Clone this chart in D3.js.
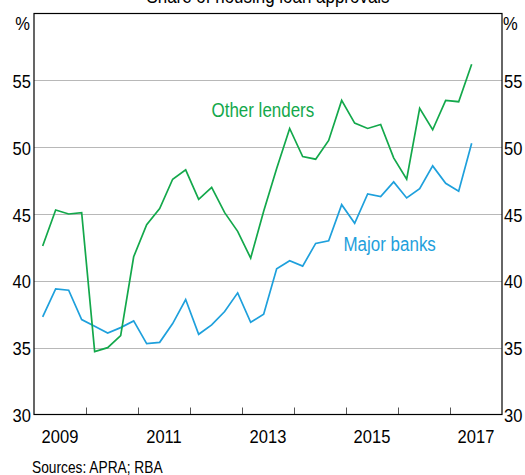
<!DOCTYPE html>
<html>
<head>
<meta charset="utf-8">
<script src="https://cdn.jsdelivr.net/npm/d3@7"></script>
<style>
    body { margin: 0; background: #fff; }
    svg { display: block; font-family: "Liberation Sans", Arial, sans-serif; }
</style>
</head>
<body>
<div id="chart"></div>
<script>
// quarterly observations, plotted at the last month of each quarter
const quarters = [
    '2009Q1', '2009Q2', '2009Q3', '2009Q4', '2010Q1', '2010Q2', '2010Q3', '2010Q4',
    '2011Q1', '2011Q2', '2011Q3', '2011Q4', '2012Q1', '2012Q2', '2012Q3', '2012Q4',
    '2013Q1', '2013Q2', '2013Q3', '2013Q4', '2014Q1', '2014Q2', '2014Q3', '2014Q4',
    '2015Q1', '2015Q2', '2015Q3', '2015Q4', '2016Q1', '2016Q2', '2016Q3', '2016Q4',
    '2017Q1', '2017Q2'
]
const otherLenders = [
    42.6, 45.3, 45.0, 45.1, 34.7, 35.0, 35.9, 41.8,
    44.2, 45.4, 47.6, 48.3, 46.1, 47.0, 45.1, 43.7,
    41.7, 45.2, 48.4, 51.4, 49.3, 49.1, 50.5, 53.5,
    51.8, 51.4, 51.7, 49.2, 47.6, 52.9, 51.3, 53.5,
    53.4, 56.2
]
const majorBanks = [
    37.3, 39.4, 39.3, 37.1, 36.6, 36.1, 36.5, 37.0,
    35.3, 35.4, 36.8, 38.6, 36.0, 36.7, 37.7, 39.1,
    36.9, 37.5, 40.9, 41.5, 41.1, 42.8, 43.0, 45.7,
    44.3, 46.5, 46.3, 47.4, 46.2, 46.9, 48.6, 47.3,
    46.7, 50.3
]
const yTicks = [30, 35, 40, 45, 50, 55]
const yearTicks = [2010, 2011, 2012, 2013, 2014, 2015, 2016, 2017]
const yearLabels = [2009, 2011, 2013, 2015, 2017]

const width = 525
const height = 475
const margin = { top: 13.5, right: 23, bottom: 60.5, left: 34 }
const green = '#13a84b'
const blue = '#1ea0dc'
const sx = 0.87 // fonts in the original are a bit condensed

const svg = d3.select('#chart').append('svg')
    .attr('width', width)
    .attr('height', height)

const x = d3.scaleLinear()
    .domain([2009, 2018])
    .range([margin.left, width - margin.right])
const y = d3.scaleLinear()
    .domain([30, 60])
    .range([height - margin.bottom, margin.top])

const qDate = (q) => +q.slice(0, 4) + (3 * (+q.slice(5) - 1) + 2) / 12

const label = (sel, tx, ty, txt, size, anchor, color, scale) => sel.append('text')
    .attr('transform', `translate(${tx},${ty}) scale(${scale || sx},1)`)
    .attr('text-anchor', anchor || 'start')
    .attr('font-size', size)
    .attr('fill', color || '#000')
    .text(txt)

// gridlines
svg.append('g')
    .selectAll('line')
    .data(yTicks.filter(d => d > 30))
    .enter()
    .append('line')
    .attr('x1', x(2009))
    .attr('x2', x(2018))
    .attr('y1', d => Math.round(y(d)) + 0.5)
    .attr('y2', d => Math.round(y(d)) + 0.5)
    .attr('stroke', '#b8b8b8')
    .attr('stroke-width', 1)

// year ticks along the bottom, pointing up
const xAxis = svg.append('g')
    .attr('transform', `translate(0,${y(30)})`)
    .call(d3.axisBottom(x).tickValues(yearTicks).tickSize(-7).tickFormat(''))
xAxis.select('.domain').remove()
xAxis.selectAll('line').attr('stroke', '#555')

// frame
svg.append('rect')
    .attr('x', x(2009))
    .attr('y', y(60))
    .attr('width', x(2018) - x(2009))
    .attr('height', y(30) - y(60))
    .attr('fill', 'none')
    .attr('stroke', '#000')
    .attr('stroke-width', 1.2)

const line = d3.line()
    .x((d, i) => x(qDate(quarters[i])))
    .y(d => y(d))

svg.append('path')
    .datum(majorBanks)
    .attr('d', line)
    .attr('fill', 'none')
    .attr('stroke', blue)
    .attr('stroke-width', 1.7)
    .attr('stroke-linejoin', 'miter')

svg.append('path')
    .datum(otherLenders)
    .attr('d', line)
    .attr('fill', 'none')
    .attr('stroke', green)
    .attr('stroke-width', 1.7)
    .attr('stroke-linejoin', 'miter')

// y labels on both sides
yTicks.forEach(d => {
    label(svg, x(2009) - 3, y(d) + 7.5, d, 19, 'end')
    label(svg, x(2018) + 2, y(d) + 7.5, d, 19, 'start')
})
label(svg, x(2009) - 4, 30, '%', 19, 'end')
label(svg, x(2018) + 1, 30, '%', 19, 'start')

yearLabels.forEach(d => {
    label(svg, x(d + 0.5), 443, d, 19, 'middle')
})

// title sits partly above the top edge, as in the original
label(svg, (margin.left + width - margin.right) / 2, 3, 'Share of housing loan approvals', 19.5, 'middle')
label(svg, 211.5, 116.5, 'Other lenders', 19.5, 'start', green)
label(svg, 343.5, 251, 'Major banks', 19.5, 'start', blue)
label(svg, 32, 473, 'Sources: APRA; RBA', 16, 'start', '#000', 0.86)
</script>
</body>
</html>
